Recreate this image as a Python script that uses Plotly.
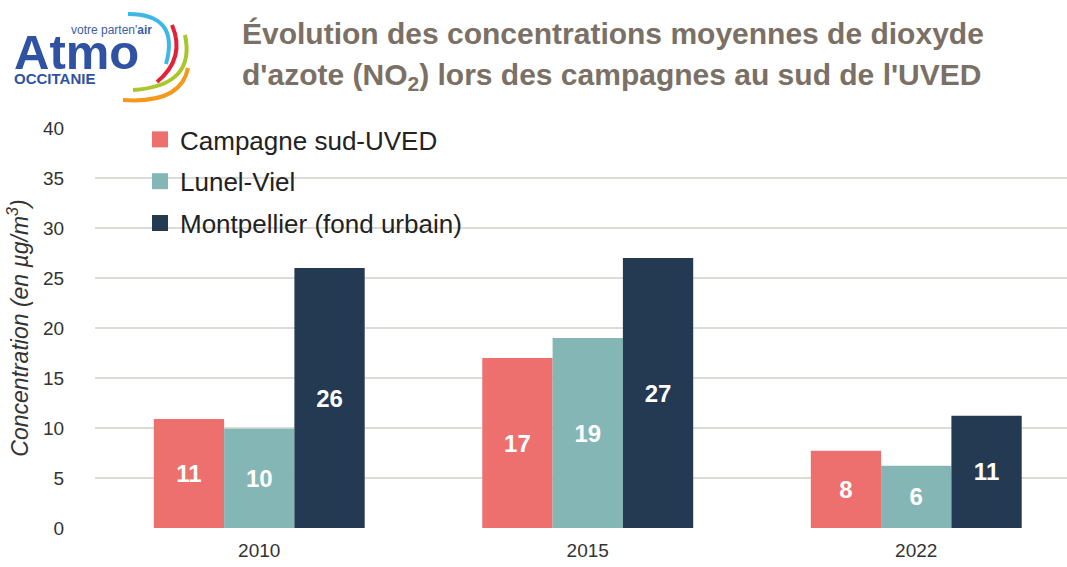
import plotly.graph_objects as go

years = ["2010", "2015", "2022"]
series_names = ["Campagne sud-UVED", "Lunel-Viel", "Montpellier (fond urbain)"]
campagne = [10.9, 17.0, 7.73]
lunel = [9.93, 19.0, 6.23]
montpellier = [26.0, 27.0, 11.23]
colors = ["#ED706F", "#84B6B6", "#243A52"]
y_ticks = [0, 5, 10, 15, 20, 25, 30, 35, 40]

W, H = 1067, 567
L, R, T, B = 95, 0, 128, 39
PW, PH = W - L - R, H - T - B

def px(x):
    return (x - L) / PW

def py(y):
    return (H - B - y) / PH

SANS = "Liberation Sans, Arial, sans-serif"

fig = go.Figure()
for i, (name, vals, col) in enumerate(zip(series_names, [campagne, lunel, montpellier], colors)):
    fig.add_trace(go.Bar(
        x=years, y=vals, name=name, marker=dict(color=col, line=dict(width=0)),
        texttemplate="%{y:.0f}", textposition="inside", insidetextanchor="middle",
        textangle=0,
        textfont=dict(family=SANS, size=24, color="white", weight="bold"),
        showlegend=False, hoverinfo="skip",
    ))
    fig.add_trace(go.Scatter(
        x=[None], y=[None], mode="markers", name=name, legendgroup="g%d" % i,
        marker=dict(symbol="square", size=16, color=col), showlegend=True,
    ))

# category spacing ~328.5 px -> range
span = PW / 328.5
fig.update_xaxes(range=[-0.5, -0.5 + span], type="category", showgrid=False, showline=False,
                 ticks="outside", ticklen=5, tickcolor="rgba(0,0,0,0)",
                 tickfont=dict(family=SANS, size=19, color="#333333"))
fig.update_yaxes(range=[0, 40], tickvals=y_ticks, showgrid=True, gridcolor="#DCDCD7", gridwidth=2,
                 zeroline=False, showline=False, ticks="outside", ticklen=26,
                 tickcolor="rgba(0,0,0,0)",
                 tickfont=dict(family=SANS, size=19, color="#333333"),
                 title=dict(text="Concentration (en µg/m<sup>3</sup>)",
                            font=dict(family=SANS, size=23, color="#333333", style="italic"),
                            standoff=8))

shapes = []
arcs = [
    ("#3DB8E6", (128, 14), (180, 14), (166, 64)),
    ("#E2213A", (172, 25), (186, 58), (157, 82)),
    ("#A8C72A", (185, 35), (196, 86), (133, 90)),
    ("#F39A1E", (188, 68), (181, 104), (123, 100)),
]
for col, p0, p1, p2 in arcs:
    path = "M {} {} Q {} {} {} {}".format(px(p0[0]), py(p0[1]), px(p1[0]), py(p1[1]), px(p2[0]), py(p2[1]))
    shapes.append(dict(type="path", xref="paper", yref="paper", path=path,
                       line=dict(color=col, width=4)))

annotations = [
    dict(text="Évolution des concentrations moyennes de dioxyde", x=px(240), y=py(34),
         xref="paper", yref="paper", xanchor="left", yanchor="middle", showarrow=False,
         font=dict(family=SANS, size=30, color="#7A7065", weight="bold")),
    dict(text="d'azote (NO<sub>2</sub>) lors des campagnes au sud de l'UVED", x=px(240), y=py(76),
         xref="paper", yref="paper", xanchor="left", yanchor="middle", showarrow=False,
         font=dict(family=SANS, size=30, color="#7A7065", weight="bold")),
    dict(text="Atmo", x=px(12), y=py(52), xref="paper", yref="paper", xanchor="left",
         yanchor="middle", showarrow=False,
         font=dict(family=SANS, size=49, color="#2F52A2", weight="bold")),
    dict(text="votre parten'<b>air</b>", x=px(69), y=py(30), xref="paper", yref="paper",
         xanchor="left", yanchor="middle", showarrow=False,
         font=dict(family=SANS, size=12, color="#3C5DAA")),
    dict(text="OCCITANIE", x=px(12), y=py(79), xref="paper", yref="paper", xanchor="left",
         yanchor="middle", showarrow=False,
         font=dict(family=SANS, size=15, color="#2F52A2", weight="bold")),
]

fig.update_layout(
    width=W, height=H, margin=dict(l=L, r=R, t=T, b=B),
    paper_bgcolor="white", plot_bgcolor="white",
    barmode="group", bargap=0.358, bargroupgap=0,
    showlegend=True,
    legend=dict(x=px(140), y=py(116), xanchor="left", yanchor="top",
                font=dict(family=SANS, size=26, color="#222222"),
                bgcolor="rgba(0,0,0,0)", tracegroupgap=5),
    shapes=shapes, annotations=annotations,
)

fig.write_html("out.html", config={"displayModeBar": False},
               post_script="document.body.style.margin='0';document.body.style.overflow='hidden';")
